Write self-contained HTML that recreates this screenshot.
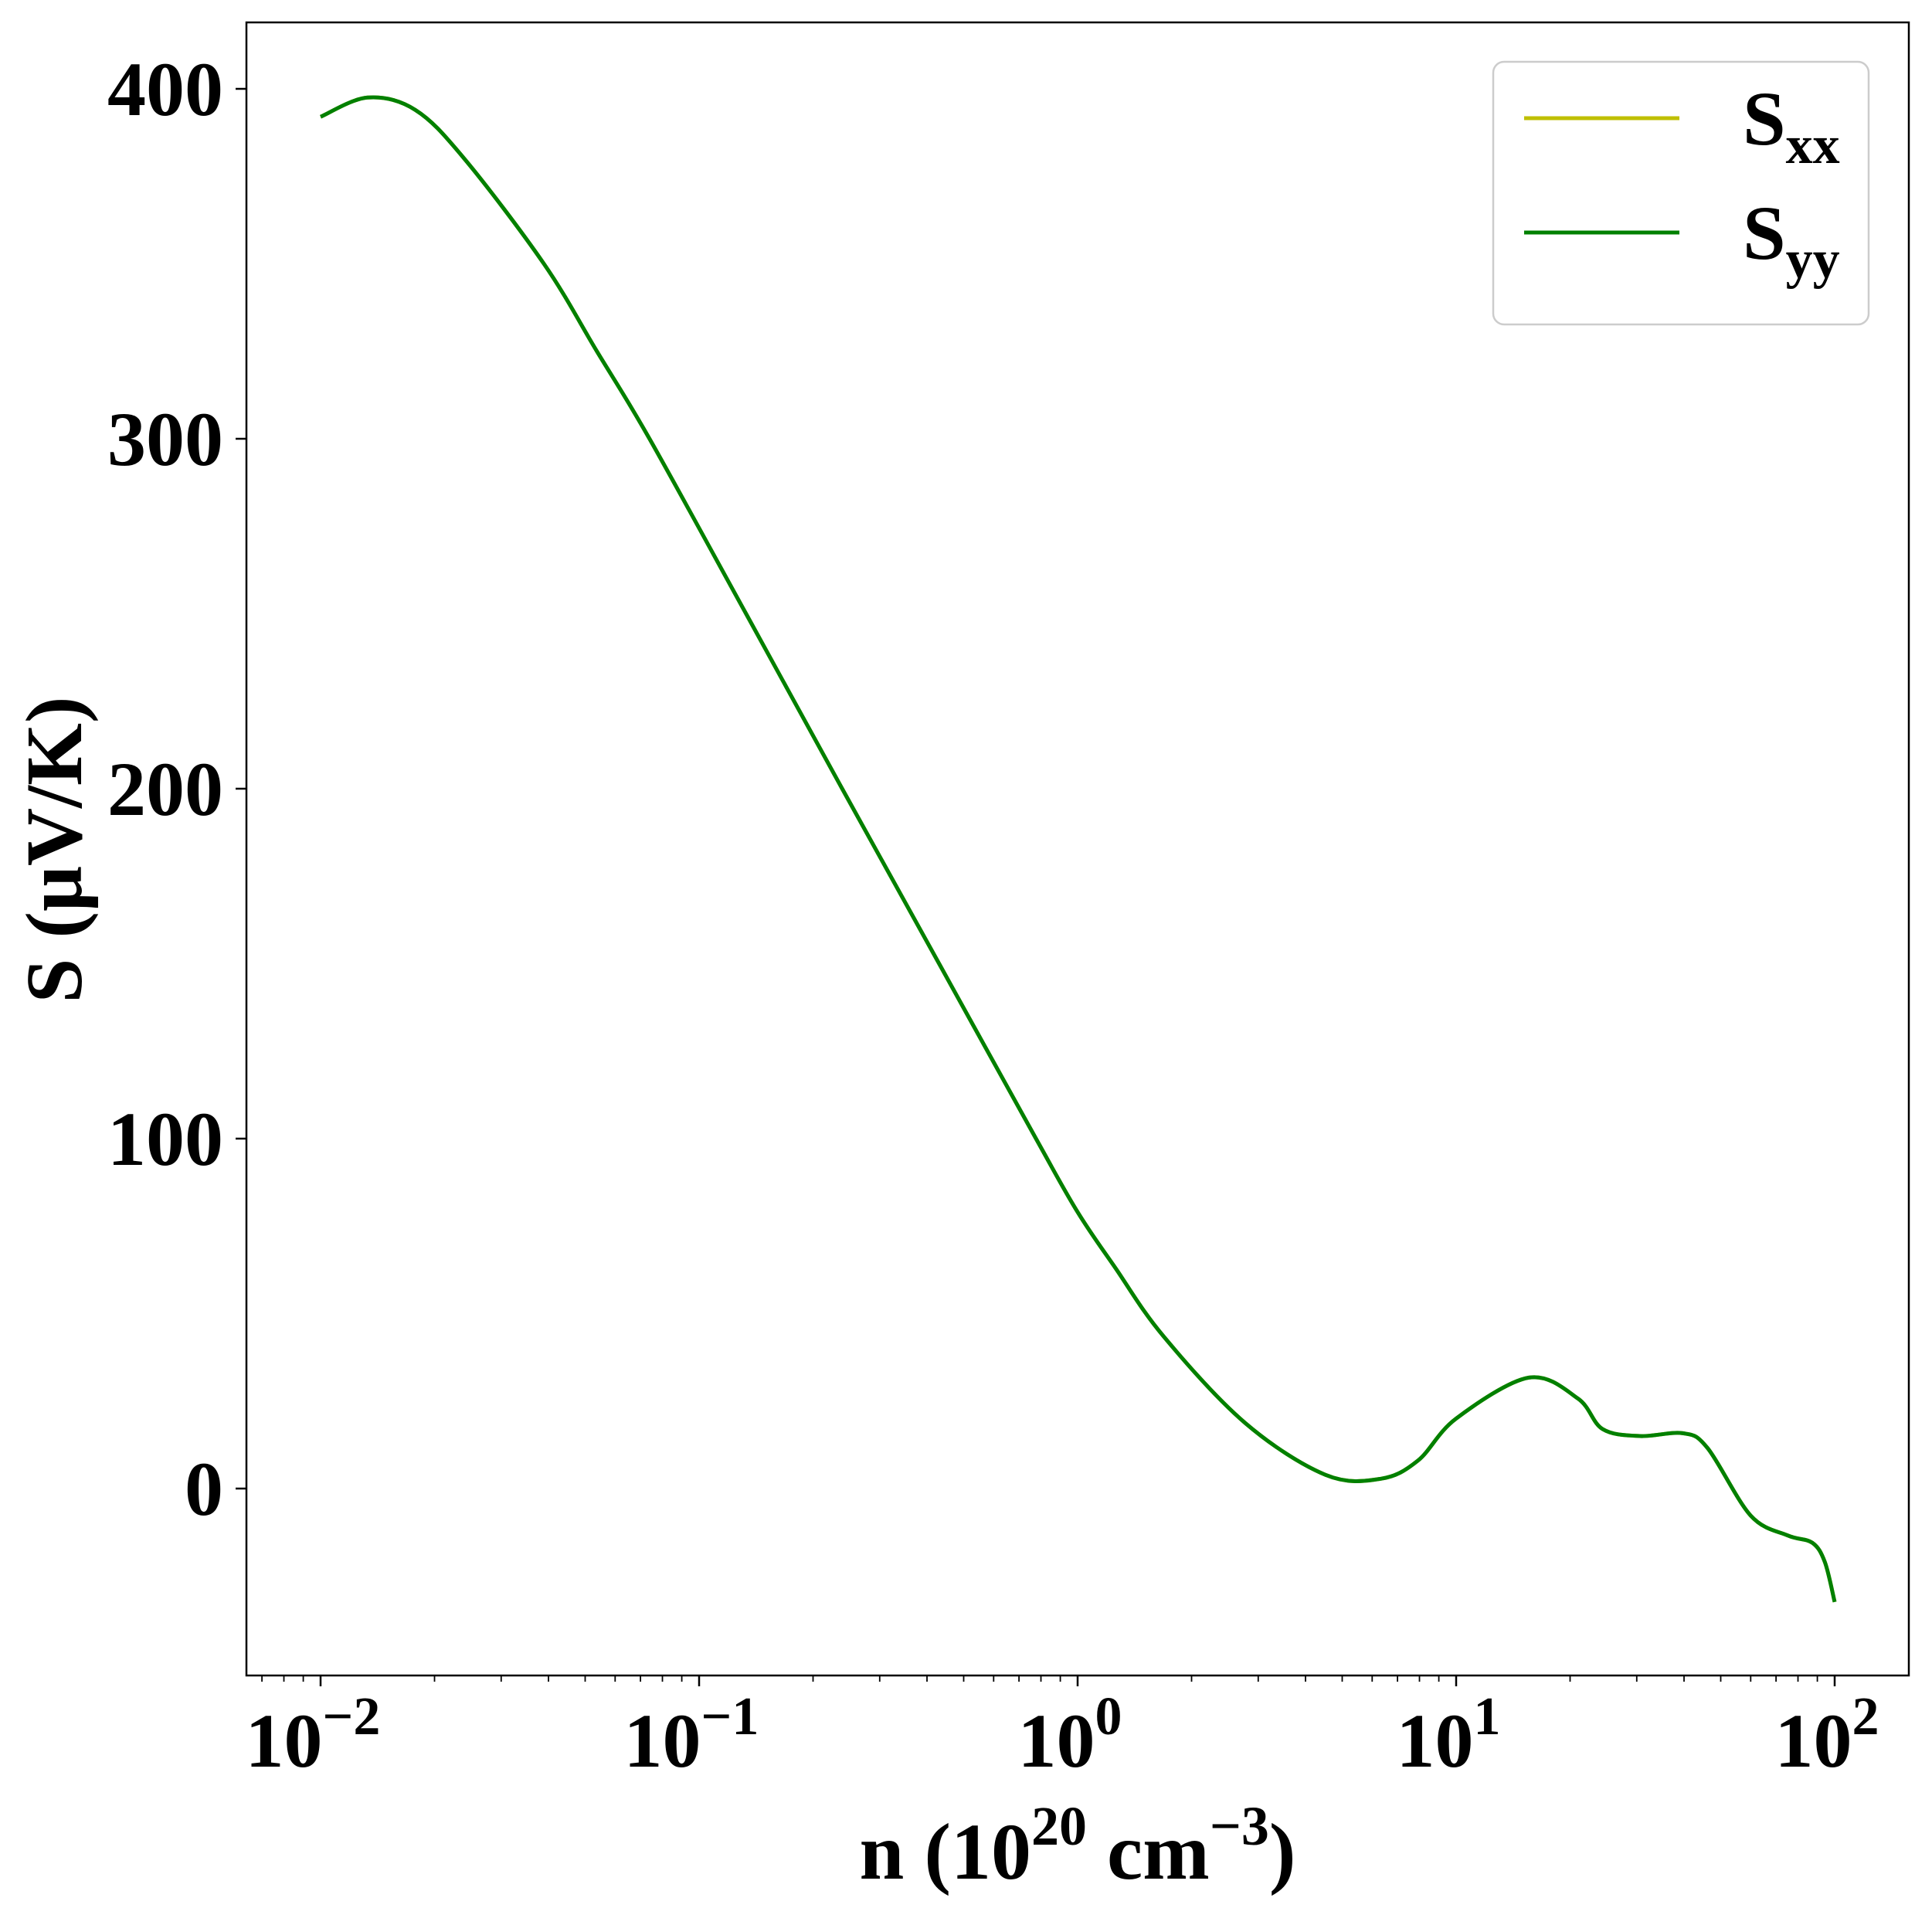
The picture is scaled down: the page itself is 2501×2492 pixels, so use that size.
<!DOCTYPE html>
<html><head><meta charset="utf-8"><style>
html,body{margin:0;padding:0;background:#fff}
svg{display:block;font-family:"Liberation Serif","Times New Roman",serif;font-weight:bold}
</style></head><body>
<svg id="chart" width="2501" height="2492" viewBox="0 0 2501 2492" xmlns="http://www.w3.org/2000/svg">
<rect width="2501" height="2492" fill="#fff"/>
<g id="plot"></g>
</svg>
<script>
const logN = [-2,-1.876,-1.75,-1.62,-1.41,-1.27,-1.131,-0.876,-0.622,-0.366,-0.11,0,0.1,0.227,0.443,0.655,0.801,0.899,1,1.192,1.322,1.387,1.485,1.599,1.664,1.778,1.876,1.941,1.974,2];
const sVals = [392,397.5,394,380,350,325,300,250,200,150,100,79,63,43.5,18.7,3.9,2.8,8,20,31.7,25.7,17,15,15.8,11.6,-7.7,-13.4,-15.5,-21,-32.4];
const yTicks = [0,100,200,300,400];
const xTicks = [-2,-1,0,1,2];
const xTickLabels = ["\u22122","\u22121","0","1","2"];

const NS="http://www.w3.org/2000/svg";
const g=document.getElementById('plot');
const L=319,R=2471,T=29,B=2169;
const xS=v=>415+(v+2)*490;
const yS=v=>1927-v*4.53;
function el(t,a,p){const e=document.createElementNS(NS,t);for(const k in a)e.setAttribute(k,a[k]);(p||g).appendChild(e);return e;}

const frame=el('rect',{x:L,y:T,width:R-L,height:B-T,fill:'none',stroke:'#000','stroke-width':2.5});



yTicks.forEach(v=>{
  const y=yS(v);
  const t=el('line',{x1:L-14,x2:L,y1:y,y2:y,stroke:'#000','stroke-width':2.5});
  
  
  const tx=el('text',{x:L-30,y:y+34,'text-anchor':'end','font-size':100});
  tx.textContent=v;
  
  
});
for(let d=-3;d<=2;d++){
  for(let m=2;m<=9;m++){
    const lv=d+Math.log10(m);const x=xS(lv);
    if(x<L||x>R)continue;
    const t=el('line',{x1:x,x2:x,y1:B,y2:B+8,stroke:'#000','stroke-width':1.8});
    
    
  }
}
xTicks.forEach((v,i)=>{
  const x=xS(v);
  const t=el('line',{x1:x,x2:x,y1:B,y2:B+14,stroke:'#000','stroke-width':2.5});
  
  
  const tx=el('text',{x:x-10,y:B+118,'text-anchor':'middle','font-size':100});
  
  
  tx.appendChild(document.createTextNode('10'));
  const s=el('tspan',{dy:-42,'font-size':70},tx);s.textContent=xTickLabels[i];
});

const xl=el('text',{x:1395,y:2432,'text-anchor':'middle','font-size':104});


xl.appendChild(document.createTextNode('n (10'));
let s1=el('tspan',{dy:-44,'font-size':72},xl);s1.textContent='20';
let s2=el('tspan',{dy:44},xl);s2.textContent=' cm';
let s3=el('tspan',{dy:-44,'font-size':72},xl);s3.textContent='\u22123';
let s4=el('tspan',{dy:44},xl);s4.textContent=')';

const yl=el('text',{x:0,y:0,'text-anchor':'middle','font-size':104,transform:'translate(105,1100) rotate(-90)'});
yl.textContent='S (\u03bcV/K)';



const P=logN.map((v,i)=>[xS(v),yS(sVals[i])]);
let d='M'+P[0][0].toFixed(1)+','+P[0][1].toFixed(1);
for(let i=0;i<P.length-1;i++){
  const p0=P[Math.max(0,i-1)],p1=P[i],p2=P[i+1],p3=P[Math.min(P.length-1,i+2)];
  const c1=[p1[0]+(p2[0]-p0[0])/6,p1[1]+(p2[1]-p0[1])/6];
  const c2=[p2[0]-(p3[0]-p1[0])/6,p2[1]-(p3[1]-p1[1])/6];
  d+=' C'+c1.map(n=>n.toFixed(1)).join(',')+' '+c2.map(n=>n.toFixed(1)).join(',')+' '+p2.map(n=>n.toFixed(1)).join(',');
}
const px=el('path',{d:d,fill:'none',stroke:'#bfbf00','stroke-width':5});


const py=el('path',{d:d,fill:'none',stroke:'#008000','stroke-width':5,'stroke-linejoin':'round'});



const lg=el('g',{});


el('rect',{x:1933,y:80,width:486,height:340,rx:14,fill:'#fff',stroke:'#ccc','stroke-width':2.5},lg);
[['#bfbf00','xx',153,'legend-entry-sxx'],['#008000','yy',301,'legend-entry-syy']].forEach(a=>{
  const e=el('g',{},lg);
  
  
  el('line',{x1:1973,x2:2174,y1:a[2],y2:a[2],stroke:a[0],'stroke-width':5},e);
  const t=el('text',{x:2256,y:a[2]+34,'font-size':100},e);
  t.appendChild(document.createTextNode('S'));
  const sb=el('tspan',{dy:24,'font-size':70},t);sb.textContent=a[1];
});
</script>
</body></html>
